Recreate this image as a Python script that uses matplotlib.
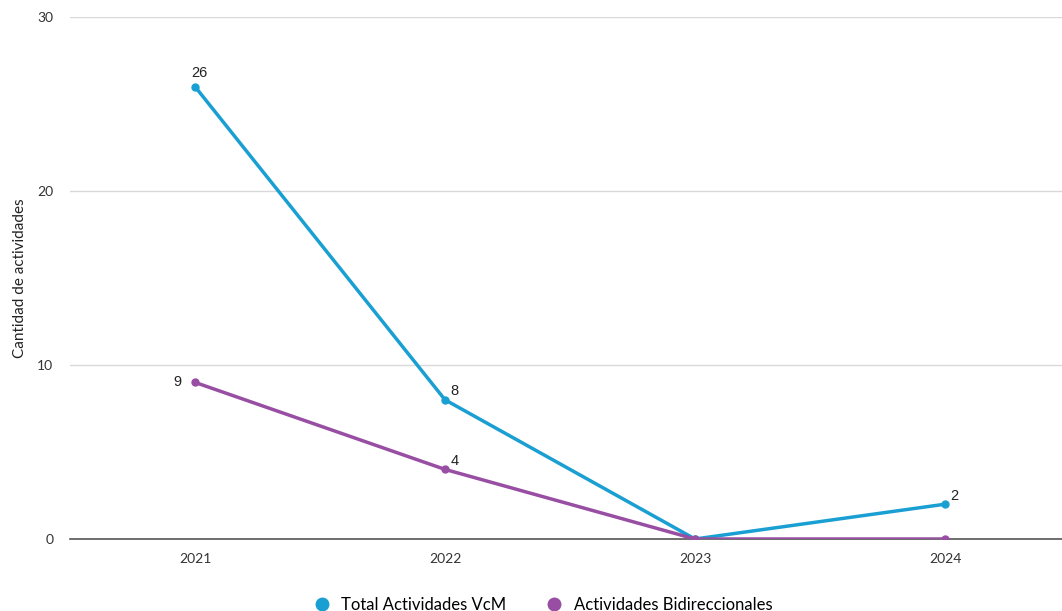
import matplotlib
matplotlib.use("Agg")
import matplotlib.pyplot as plt

years = ["2021", "2022", "2023", "2024"]
total_vcm = [26, 8, 0, 2]
bidireccionales = [9, 4, 0, 0]
series_names = ["Total Actividades VcM", "Actividades Bidireccionales"]
colors = ["#1a9fd3", "#984ea3"]

fig = plt.figure(figsize=(10.62, 6.11), dpi=100)
ax = fig.add_axes([70/1062, (611-539)/611, 1000/1062, (539-17)/611])

x = list(range(len(years)))
ax.plot(x, total_vcm, color=colors[0], lw=2.5, marker="o", ms=5, zorder=3, label=series_names[0])
ax.plot(x, bidireccionales, color=colors[1], lw=2.5, marker="o", ms=5, zorder=3, label=series_names[1])

ax.set_xlim(-0.5, 3.5)
ax.set_ylim(0, 30)
ax.set_yticks([0, 10, 20, 30])
ax.set_xticks(x)
ax.set_xticklabels(years)
ax.grid(axis="y", color="#d9d9d9", lw=1)
ax.set_axisbelow(True)
for s in ["top", "right", "left"]:
    ax.spines[s].set_visible(False)
ax.spines["bottom"].set_color("#555555")
ax.spines["bottom"].set_linewidth(1.2)
ax.tick_params(axis="both", length=0, labelsize=10, colors="#333333", labelfontfamily="Lato")
ax.tick_params(axis="x", pad=10)
ax.tick_params(axis="y", pad=12)
ax.set_ylabel("Cantidad de actividades", fontsize=11, family="Lato", color="#222222", labelpad=7)

lab_font = dict(fontsize=10.5, family="Liberation Sans", color="#222222")
# data labels
ax.annotate(str(total_vcm[0]), (x[0], total_vcm[0]), xytext=(3, 5), textcoords="offset points", ha="center", va="bottom", **lab_font)
ax.annotate(str(total_vcm[1]), (x[1], total_vcm[1]), xytext=(4, 1), textcoords="offset points", ha="left", va="bottom", **lab_font)
ax.annotate(str(total_vcm[3]), (x[3], total_vcm[3]), xytext=(4, 1), textcoords="offset points", ha="left", va="bottom", **lab_font)
ax.annotate(str(bidireccionales[0]), (x[0], bidireccionales[0]), xytext=(-10, 0), textcoords="offset points", ha="right", va="center", **lab_font)
ax.annotate(str(bidireccionales[1]), (x[1], bidireccionales[1]), xytext=(4, 1), textcoords="offset points", ha="left", va="bottom", **lab_font)

leg = fig.legend(loc="lower center", bbox_to_anchor=(0.512, -0.028), ncol=2, frameon=False,
                 prop={"family": "Lato", "size": 12}, handlelength=0.8, columnspacing=2.5,
                 handletextpad=0.75)
for h, c in zip(leg.legend_handles, colors):
    h.set_linestyle("none")
    h.set_marker("o")
    h.set_markersize(9)
    h.set_color(c)

fig.savefig("out.png", dpi=100)
